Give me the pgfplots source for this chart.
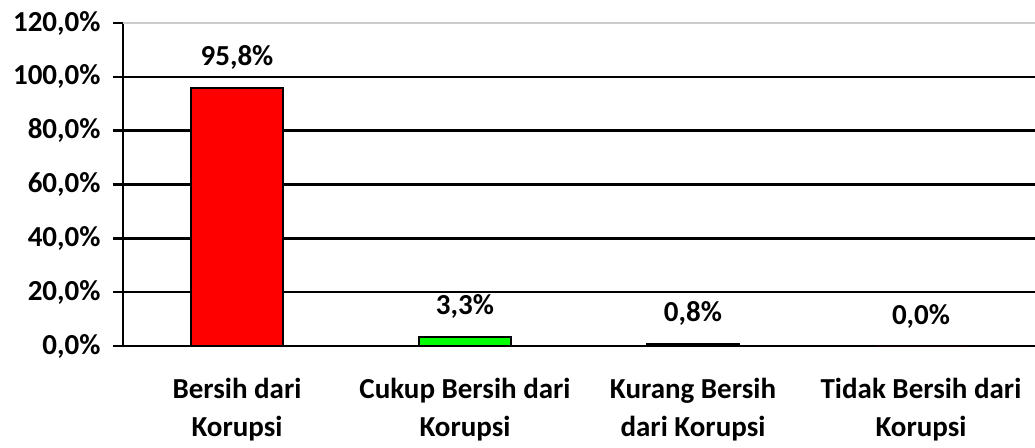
\documentclass[border=0pt]{standalone}
\usepackage{pgfplots}
\pgfplotsset{compat=1.18}
\usepackage{fontspec}
\setmainfont{Carlito}

\begin{document}
\begin{tikzpicture}
\begin{axis}[
    name=ax,
    scale only axis,
    width=912pt, height=323pt,
    font=\bfseries\fontsize{29}{38}\selectfont,
    /pgf/number format/assume math mode=true,
    xmin=-0.5, xmax=3.5,
    ymin=0, ymax=120,
    axis x line*=bottom,
    axis y line*=left,
    axis line style={line width=2.4pt},
    ytick={0,20,40,60,80,100},
    extra y ticks={120},
    extra y tick style={grid style={gray!40, line width=1.6pt}},
    yticklabel={\pgfmathprintnumber[fixed,fixed zerofill,precision=1,use comma]{\tick}\%},
    ymajorgrids,
    grid style={black, line width=2.4pt},
    tick align=outside,
    major tick length=10pt,
    tick style={black, line width=2.4pt},
    yticklabel style={xshift=-9pt, font=\bfseries\fontsize{29}{34}\selectfont},
    xtick={0,1,2,3},
    xticklabels={{Bersih dari\\Korupsi},{Cukup Bersih dari\\Korupsi},{Kurang Bersih\\dari Korupsi},{Tidak Bersih dari\\Korupsi}},
    x tick label style={align=center, yshift=-19pt},
    x tick style={draw=none},
    extra x ticks={-0.5,0.5,1.5,2.5},
    extra x tick labels={},
    extra x tick style={tick style={black, line width=2.4pt}, major tick length=10pt},
    ybar, bar width=92pt, bar shift=0pt,
    nodes near coords={\pgfmathprintnumber[fixed,fixed zerofill,precision=1,use comma]{\pgfplotspointmeta}\%},
    nodes near coords style={anchor=south, yshift=14pt},
    clip=false,
]
\addplot[fill=red, draw=black, line width=2.4pt] coordinates {(0,95.8)};
\addplot[fill=green, draw=black, line width=2.4pt] coordinates {(1,3.3)};
\addplot[fill=red, draw=black, line width=2.4pt] coordinates {(2,0.8)};
\addplot[fill=red, draw=none] coordinates {(3,0.0)};
\end{axis}
\pgfresetboundingbox
\path ([shift={(-123pt,-101pt)}]ax.south west) rectangle ([shift={(0pt,23pt)}]ax.north east);
\end{tikzpicture}
\end{document}
